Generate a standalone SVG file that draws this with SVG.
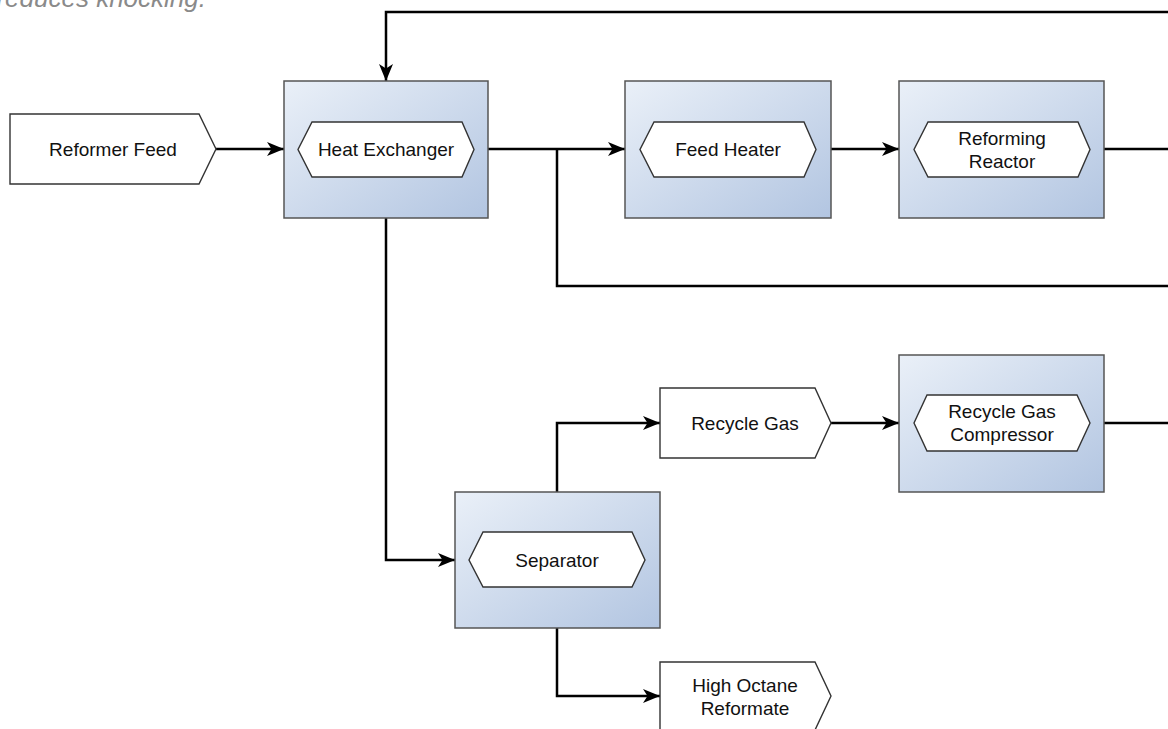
<svg xmlns="http://www.w3.org/2000/svg" width="1168" height="729" viewBox="0 0 1168 729">
  <defs>
    <linearGradient id="boxGrad" x1="0" y1="0" x2="1" y2="1">
      <stop offset="0" stop-color="#eaf0f8"/>
      <stop offset="1" stop-color="#b2c5e1"/>
    </linearGradient>
    <marker id="arrow" markerUnits="userSpaceOnUse" markerWidth="20" markerHeight="16" refX="17" refY="7.5" orient="auto">
      <path d="M0,0.5 L17,7.5 L0,14.5 L4.5,7.5 Z" fill="#000"/>
    </marker>
  </defs>
  <style>
    .box { fill: url(#boxGrad); stroke: #555; stroke-width: 1.5; }
    .shape { fill: #fff; stroke: #333; stroke-width: 1.4; }
    .lbl { font-family: "Liberation Sans", Arial, sans-serif; font-size: 19px; fill: #111; text-anchor: middle; }
    .conn { fill: none; stroke: #000; stroke-width: 2.5; }
    .arr { marker-end: url(#arrow); }
    .note { font-family: "Liberation Sans", Arial, sans-serif; font-size: 26px; font-style: italic; fill: #8a8a8a; text-anchor: end; }
  </style>

  <text class="note" x="206" y="7">reduces knocking.</text>

  <g id="connectors">
    <path class="conn arr" d="M216,149 L284,149"/>
    <path class="conn arr" d="M488,149 L625,149"/>
    <path class="conn" d="M557,149 L557,286 L1168,286"/>
    <path class="conn arr" d="M831,149 L899,149"/>
    <path class="conn" d="M1104,149 L1168,149"/>
    <path class="conn arr" d="M1168,12 L386,12 L386,81"/>
    <path class="conn arr" d="M386,218 L386,560 L455,560"/>
    <path class="conn arr" d="M557,492 L557,423 L660,423"/>
    <path class="conn arr" d="M831,423 L899,423"/>
    <path class="conn" d="M1104,423 L1168,423"/>
    <path class="conn arr" d="M557,628 L557,696 L660,696"/>
  </g>

  <g id="reformer-feed">
    <path class="shape" d="M10,114 L199,114 L216,149 L199,184 L10,184 Z"/>
    <text class="lbl" x="113" y="156">Reformer Feed</text>
  </g>

  <g id="heat-exchanger">
    <rect class="box" x="284" y="81" width="204" height="137"/>
    <path class="shape" d="M312,122 L462,122 L474,149.5 L462,177 L312,177 L298,149.5 Z"/>
    <text class="lbl" x="386" y="156">Heat Exchanger</text>
  </g>

  <g id="feed-heater">
    <rect class="box" x="625" y="81" width="206" height="137"/>
    <path class="shape" d="M654,122 L804,122 L816,149.5 L804,177 L654,177 L640,149.5 Z"/>
    <text class="lbl" x="728" y="156">Feed Heater</text>
  </g>

  <g id="reforming-reactor">
    <rect class="box" x="899" y="81" width="205" height="137"/>
    <path class="shape" d="M928,122 L1078,122 L1090,149.5 L1078,177 L928,177 L914,149.5 Z"/>
    <text class="lbl" x="1002" y="144.5">Reforming</text>
    <text class="lbl" x="1002" y="167.5">Reactor</text>
  </g>

  <g id="recycle-gas">
    <path class="shape" d="M660,388 L815,388 L831,423 L815,458 L660,458 Z"/>
    <text class="lbl" x="745" y="430">Recycle Gas</text>
  </g>

  <g id="recycle-gas-compressor">
    <rect class="box" x="899" y="355" width="205" height="137"/>
    <path class="shape" d="M927,395 L1077,395 L1090,423 L1077,451 L927,451 L914,423 Z"/>
    <text class="lbl" x="1002" y="418">Recycle Gas</text>
    <text class="lbl" x="1002" y="441">Compressor</text>
  </g>

  <g id="separator">
    <rect class="box" x="455" y="492" width="205" height="136"/>
    <path class="shape" d="M483,532 L632,532 L645,560 L632,587 L483,587 L469,560 Z"/>
    <text class="lbl" x="557" y="567">Separator</text>
  </g>

  <g id="high-octane-reformate">
    <path class="shape" d="M660,662 L815,662 L831,696 L815,730 L660,730 Z"/>
    <text class="lbl" x="745" y="692">High Octane</text>
    <text class="lbl" x="745" y="715">Reformate</text>
  </g>
</svg>
